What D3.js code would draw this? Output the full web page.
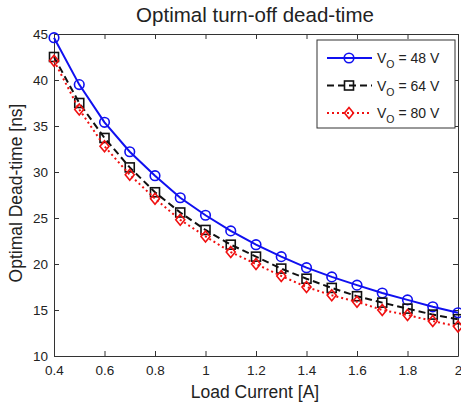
<!DOCTYPE html>
<meta charset="utf-8">
<style>
  body { margin: 0; background: #fff; }
  text { font-family: Arial, 'Liberation Sans', sans-serif; fill: #222; }
  .tick text { font-size: 13.5px; }
</style>
<body>
<script src="https://d3js.org/d3.v7.min.js"></script>
<script>
// load current [A]
var current = [0.4, 0.5, 0.6, 0.7, 0.8, 0.9, 1.0, 1.1, 1.2, 1.3, 1.4, 1.5, 1.6, 1.7, 1.8, 1.9, 2.0];
// optimal dead-time [ns] per output voltage
var vo48 = [44.6, 39.5, 35.4, 32.2, 29.6, 27.2, 25.3, 23.6, 22.1, 20.8, 19.6, 18.6, 17.7, 16.85, 16.1, 15.35, 14.7];
var vo64 = [42.5, 37.5, 33.7, 30.5, 27.8, 25.6, 23.7, 22.1, 20.8, 19.5, 18.4, 17.4, 16.5, 15.8, 15.15, 14.5, 14.0];
var vo80 = [42.1, 36.8, 32.8, 29.7, 27.1, 24.8, 23.0, 21.3, 20.0, 18.7, 17.5, 16.6, 15.9, 15.0, 14.45, 13.8, 13.2];
var xTicks = [0.4, 0.6, 0.8, 1, 1.2, 1.4, 1.6, 1.8, 2];
var yTicks = [10, 15, 20, 25, 30, 35, 40, 45];

var W = 461, H = 407;
var margin = { top: 34, right: 3, bottom: 51, left: 54 },
  width = W - margin.left - margin.right,
  height = H - margin.top - margin.bottom;

var svg = d3.select("body").append("svg")
  .attr("width", W)
  .attr("height", H);

var g = svg.append("g")
  .attr("transform", "translate(" + margin.left + "," + margin.top + ")");

var x = d3.scaleLinear().domain([0.4, 2]).range([0, width]);
var y = d3.scaleLinear().domain([10, 45]).range([height, 0]);

// frame with inward ticks on all four sides
g.append("g").attr("transform", "translate(0," + height + ")")
  .call(d3.axisBottom(x).tickValues(xTicks).tickSizeInner(-5).tickSizeOuter(0).tickPadding(9).tickFormat(d3.format("")));
g.append("g").call(d3.axisTop(x).tickValues(xTicks).tickSizeInner(-5).tickSizeOuter(0).tickFormat(""));
g.append("g").call(d3.axisLeft(y).tickValues(yTicks).tickSizeInner(-5).tickSizeOuter(0).tickPadding(6));
g.append("g").attr("transform", "translate(" + width + ",0)")
  .call(d3.axisRight(y).tickValues(yTicks).tickSizeInner(-5).tickSizeOuter(0).tickFormat(""));
g.selectAll(".domain, .tick line").attr("stroke", "#333").attr("stroke-width", 1);
g.selectAll(".tick text").attr("fill", "#222");

var series = [
  { name: "48", values: vo48, color: "#1010f0", dash: null, marker: "circle" },
  { name: "64", values: vo64, color: "#111", dash: "7,4", marker: "square" },
  { name: "80", values: vo80, color: "#f01010", dash: "2,3", marker: "diamond" }
];

var line = d3.line()
  .x(function (d) { return x(d[0]); })
  .y(function (d) { return y(d[1]); });

function drawMarker(sel, type, color) {
  if (type === "circle") {
    sel.append("circle").attr("r", 4.8);
  } else if (type === "square") {
    sel.append("rect").attr("x", -4.5).attr("y", -4.5).attr("width", 9).attr("height", 9);
  } else {
    sel.append("path").attr("d", "M0,-5.5L4.5,0L0,5.5L-4.5,0Z");
  }
  sel.selectAll("*").attr("fill", "none").attr("stroke", color).attr("stroke-width", 1.6);
}

var plot = g.append("g");
series.forEach(function (s) {
  var pts = current.map(function (c, i) { return [c, s.values[i]]; });
  plot.append("path")
    .datum(pts)
    .attr("fill", "none")
    .attr("stroke", s.color)
    .attr("stroke-width", 2)
    .attr("stroke-dasharray", s.dash)
    .attr("d", line);
  plot.selectAll(null)
    .data(pts)
    .join("g")
    .attr("transform", function (d) { return "translate(" + x(d[0]) + "," + y(d[1]) + ")"; })
    .each(function () { drawMarker(d3.select(this), s.marker, s.color); });
});

// legend
var lg = svg.append("g").attr("transform", "translate(317,40)");
lg.append("rect").attr("width", 138).attr("height", 88)
  .attr("fill", "#fff").attr("stroke", "#333").attr("stroke-width", 1);
series.forEach(function (s, i) {
  var row = lg.append("g").attr("transform", "translate(0," + (18 + i * 27.5) + ")");
  row.append("line").attr("x1", 10).attr("x2", 55)
    .attr("stroke", s.color).attr("stroke-width", 2).attr("stroke-dasharray", s.dash);
  var m = row.append("g").attr("transform", "translate(32,0)");
  drawMarker(m, s.marker, s.color);
  var t = row.append("text").attr("x", 60).attr("y", 5).style("font-size", "14px");
  t.append("tspan").text("V");
  t.append("tspan").attr("dy", 5).style("font-size", "10.5px").text("O");
  t.append("tspan").attr("dy", -5).text(" = " + s.name + " V");
});

// titles
svg.append("text")
  .attr("x", 255).attr("y", 22)
  .attr("text-anchor", "middle").style("font-size", "20.5px")
  .text("Optimal turn-off dead-time");
svg.append("text")
  .attr("x", 255).attr("y", 398)
  .attr("text-anchor", "middle").style("font-size", "17.5px")
  .text("Load Current [A]");
svg.append("text")
  .attr("transform", "translate(22,193) rotate(-90)")
  .attr("text-anchor", "middle").style("font-size", "17.5px")
  .text("Optimal Dead-time [ns]");
</script>
</body>
